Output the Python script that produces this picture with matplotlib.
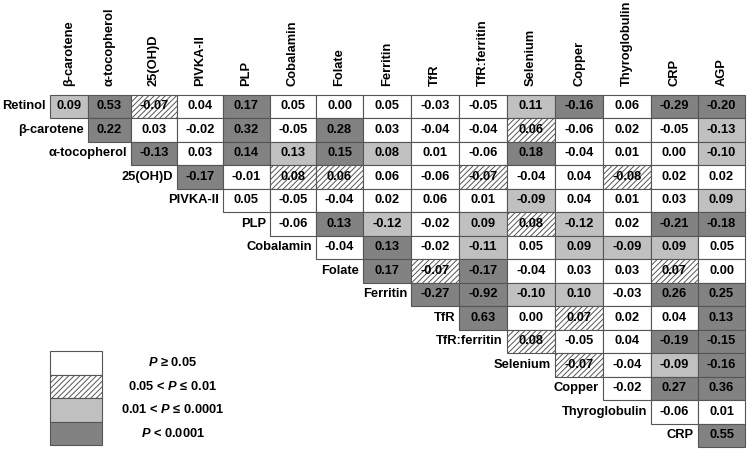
import matplotlib.pyplot as plt
from matplotlib.patches import Rectangle

plt.rcParams['font.family'] = ['Liberation Sans', 'DejaVu Sans']
plt.rcParams['mathtext.fontset'] = 'custom'
plt.rcParams['mathtext.it'] = 'Liberation Sans:italic:bold'
plt.rcParams['hatch.color'] = '#8a8a8a'
plt.rcParams['hatch.linewidth'] = 0.7

# column headers (rows use the same names, shifted by one)
columns = ["β-carotene", "α-tocopherol", "25(OH)D", "PIVKA-II", "PLP", "Cobalamin",
           "Folate", "Ferritin", "TfR", "TfR:ferritin", "Selenium", "Copper",
           "Thyroglobulin", "CRP", "AGP"]
rows = ["Retinol", "β-carotene", "α-tocopherol", "25(OH)D", "PIVKA-II", "PLP",
        "Cobalamin", "Folate", "Ferritin", "TfR", "TfR:ferritin", "Selenium",
        "Copper", "Thyroglobulin", "CRP"]

# correlation values, row i starts at column i
r_values = [
    [0.09, 0.53, -0.07, 0.04, 0.17, 0.05, 0.00, 0.05, -0.03, -0.05, 0.11, -0.16, 0.06, -0.29, -0.20],
    [0.22, 0.03, -0.02, 0.32, -0.05, 0.28, 0.03, -0.04, -0.04, 0.06, -0.06, 0.02, -0.05, -0.13],
    [-0.13, 0.03, 0.14, 0.13, 0.15, 0.08, 0.01, -0.06, 0.18, -0.04, 0.01, 0.00, -0.10],
    [-0.17, -0.01, 0.08, 0.06, 0.06, -0.06, -0.07, -0.04, 0.04, -0.08, 0.02, 0.02],
    [0.05, -0.05, -0.04, 0.02, 0.06, 0.01, -0.09, 0.04, 0.01, 0.03, 0.09],
    [-0.06, 0.13, -0.12, -0.02, 0.09, 0.08, -0.12, 0.02, -0.21, -0.18],
    [-0.04, 0.13, -0.02, -0.11, 0.05, 0.09, -0.09, 0.09, 0.05],
    [0.17, -0.07, -0.17, -0.04, 0.03, 0.03, 0.07, 0.00],
    [-0.27, -0.92, -0.10, 0.10, -0.03, 0.26, 0.25],
    [0.63, 0.00, 0.07, 0.02, 0.04, 0.13],
    [0.08, -0.05, 0.04, -0.19, -0.15],
    [-0.07, -0.04, -0.09, -0.16],
    [-0.02, 0.27, 0.36],
    [-0.06, 0.01],
    [0.55],
]

# significance class: 0 P>=0.05, 1 hatched, 2 light grey, 3 dark grey
p_class = [
    [2, 3, 1, 0, 3, 0, 0, 0, 0, 0, 2, 3, 0, 3, 3],
    [3, 0, 0, 3, 0, 3, 0, 0, 0, 1, 0, 0, 0, 2],
    [3, 0, 3, 2, 3, 2, 0, 0, 3, 0, 0, 0, 2],
    [3, 0, 1, 1, 0, 0, 1, 0, 0, 1, 0, 0],
    [0, 0, 0, 0, 0, 0, 2, 0, 0, 0, 2],
    [0, 3, 2, 0, 2, 1, 2, 0, 3, 3],
    [0, 3, 0, 2, 0, 2, 2, 2, 0],
    [3, 1, 3, 0, 0, 0, 1, 0],
    [3, 3, 2, 2, 0, 3, 3],
    [3, 0, 1, 0, 0, 3],
    [1, 0, 0, 3, 3],
    [1, 0, 2, 3],
    [0, 3, 3],
    [0, 0],
    [3],
]

legend_labels = ["$P$ ≥ 0.05", "0.05 < $P$ ≤ 0.01", "0.01 < $P$ ≤ 0.0001", "$P$ < 0.0001"]

fills = ["white", "white", "#c0c0c0", "#828282"]
hatches = [None, "//////", None, None]

fig = plt.figure(figsize=(7.47, 4.49), dpi=100)
ax = fig.add_axes([0, 0, 1, 1])
ax.set_xlim(0, 747)
ax.set_ylim(449, 0)
ax.axis("off")

col_edges = [50, 88, 131, 177, 223, 270, 316, 363, 411, 459, 507, 555, 603, 651, 698, 745]
top = 94.5
rh = 23.5
fs = 9.3

for j, name in enumerate(columns):
    cx = (col_edges[j] + col_edges[j + 1]) / 2
    ax.text(cx, 85.5, name, rotation=90, ha="center", va="bottom",
            fontsize=fs, fontweight="bold")

for i, name in enumerate(rows):
    y0 = top + i * rh
    ax.text(col_edges[i] - 4, y0 + rh / 2, name, ha="right", va="center",
            fontsize=fs, fontweight="bold")
    for k, (v, c) in enumerate(zip(r_values[i], p_class[i])):
        j = i + k
        x0 = col_edges[j]
        w = col_edges[j + 1] - x0
        ax.add_patch(Rectangle((x0, y0), w, rh, facecolor=fills[c], hatch=hatches[c],
                               edgecolor="#555555", linewidth=0.8))
        ax.text(x0 + w / 2, y0 + rh / 2, f"{v:.2f}", ha="center", va="center",
                fontsize=fs, fontweight="bold")

# legend
ly = 351
lh = 23.5
for c, lab in enumerate(legend_labels):
    y0 = ly + c * lh
    ax.add_patch(Rectangle((50, y0), 52, lh, facecolor=fills[c], hatch=hatches[c],
                           edgecolor="#555555", linewidth=0.8))
    ax.text(173, y0 + lh / 2, lab, ha="center", va="center",
            fontsize=fs, fontweight="bold")

fig.savefig("out.png", dpi=100)
